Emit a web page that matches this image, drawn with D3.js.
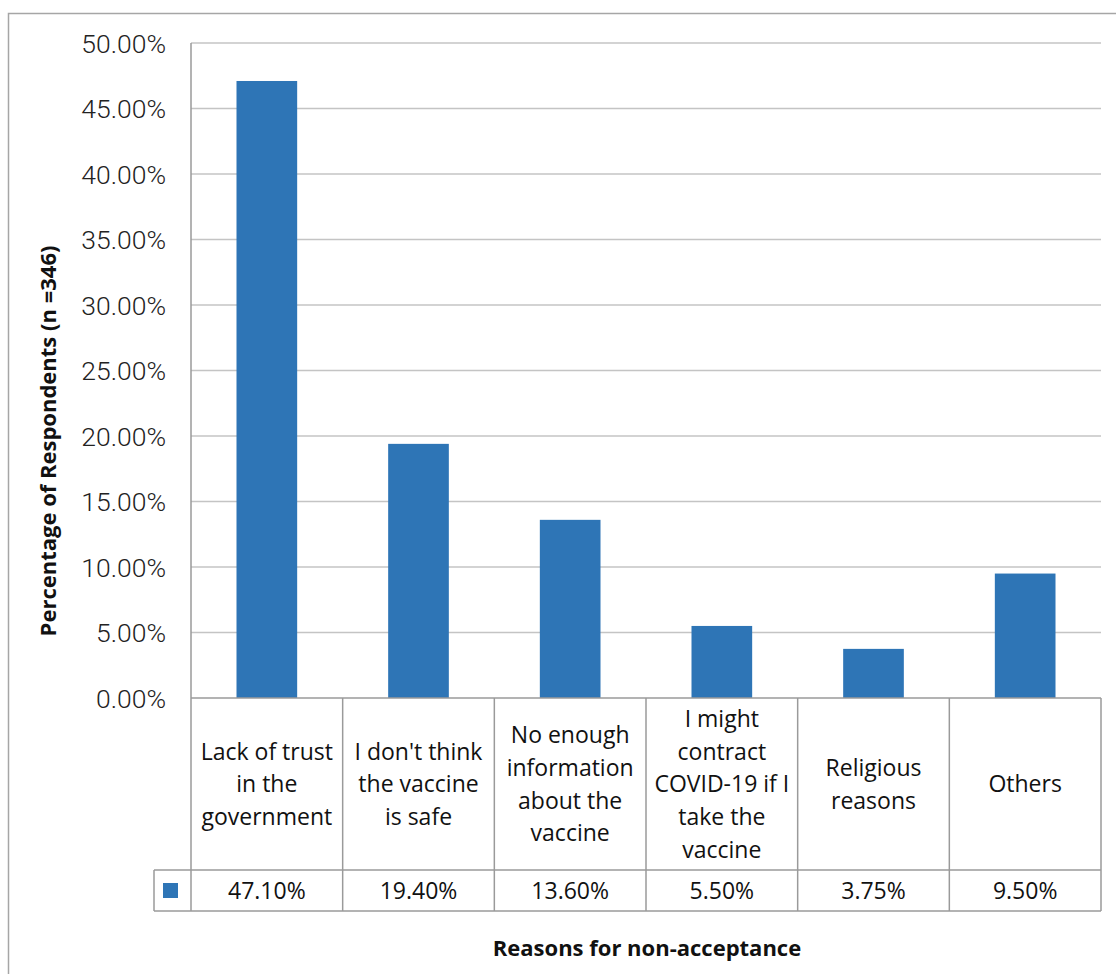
<!DOCTYPE html>
<html lang="en">
<head>
    <meta charset="UTF-8">
    <title>Reasons for non-acceptance</title>
    <script src="https://cdnjs.cloudflare.com/ajax/libs/d3/7.8.5/d3.js"></script>
    <style>
        body { margin: 0; background: #fff; }
        svg { display: block; }
    </style>
</head>
<body>
<svg width="1116" height="974"></svg>
<script>
    // data
    const categories = [
        ["Lack of trust", "in the", "government"],
        ["I don't think", "the vaccine", "is safe"],
        ["No enough", "information", "about the", "vaccine"],
        ["I might", "contract", "COVID-19 if I", "take the", "vaccine"],
        ["Religious", "reasons"],
        ["Others"]
    ];
    const values = [47.10, 19.40, 13.60, 5.50, 3.75, 9.50];
    const yTicks = [0, 5, 10, 15, 20, 25, 30, 35, 40, 45, 50];
    const yTitle = "Percentage of Respondents (n =346)";
    const xTitle = "Reasons for non-acceptance";

    const barColor = "#2e75b6";
    const gridColor = "#c4c4c4";
    const lineColor = "#9a9a9a";

    const svg = d3.select("svg");
    const plot = { left: 191, right: 1101, top: 43, bottom: 698 };
    const catRowBottom = 870;
    const valRowBottom = 911;
    const legendLeft = 154;

    // bars sit centred in the table columns
    const x = d3.scaleBand()
        .domain(d3.range(categories.length))
        .range([plot.left, plot.right])
        .paddingInner(0.6)
        .paddingOuter(0.3);
    const xCol = d3.scaleBand()
        .domain(d3.range(categories.length))
        .range([plot.left, plot.right]);
    const y = d3.scaleLinear()
        .domain([0, 50])
        .range([plot.bottom, plot.top]);

    // outer chart border
    svg.append("rect")
        .attr("x", 8.5).attr("y", 13.5)
        .attr("width", 1116).attr("height", 1000)
        .attr("fill", "none")
        .attr("stroke", "#a6a6a6")
        .attr("stroke-width", 1.5);

    // gridlines
    svg.append("g")
        .selectAll("line")
        .data(yTicks.filter(d => d > 0))
        .join("line")
        .attr("x1", plot.left).attr("x2", plot.right)
        .attr("y1", d => y(d)).attr("y2", d => y(d))
        .attr("stroke", gridColor)
        .attr("stroke-width", 1.5);

    // tick labels
    svg.append("g")
        .selectAll("text")
        .data(yTicks)
        .join("text")
        .attr("x", 166)
        .attr("y", d => y(d))
        .attr("dy", "0.36em")
        .attr("text-anchor", "end")
        .attr("font-family", "Roboto")
        .attr("font-weight", 300)
        .attr("font-size", "26.5px")
        .attr("fill", "#222")
        .text(d => d.toFixed(2) + "%");

    // bars
    svg.append("g")
        .selectAll("rect")
        .data(values)
        .join("rect")
        .attr("x", (d, i) => x(i))
        .attr("width", x.bandwidth())
        .attr("y", d => y(d))
        .attr("height", d => y(0) - y(d))
        .attr("fill", barColor);

    // data table
    const table = svg.append("g")
        .attr("fill", "none")
        .attr("stroke", lineColor)
        .attr("stroke-width", 1.5);

    // left axis line continues down as table border
    table.append("line")
        .attr("x1", plot.left).attr("x2", plot.left)
        .attr("y1", plot.top).attr("y2", valRowBottom);
    table.append("line")
        .attr("x1", plot.left).attr("x2", plot.right)
        .attr("y1", plot.bottom).attr("y2", plot.bottom);
    table.append("line")
        .attr("x1", legendLeft).attr("x2", plot.right)
        .attr("y1", catRowBottom).attr("y2", catRowBottom);
    table.append("line")
        .attr("x1", legendLeft).attr("x2", plot.right)
        .attr("y1", valRowBottom).attr("y2", valRowBottom);
    table.append("line")
        .attr("x1", legendLeft).attr("x2", legendLeft)
        .attr("y1", catRowBottom).attr("y2", valRowBottom);
    table.selectAll("line.col")
        .data(d3.range(1, categories.length + 1))
        .join("line")
        .attr("class", "col")
        .attr("x1", i => xCol(0) + i * xCol.step())
        .attr("x2", i => xCol(0) + i * xCol.step())
        .attr("y1", plot.bottom).attr("y2", valRowBottom);

    // category labels
    const lineH = 32.7;
    const catMid = (plot.bottom + catRowBottom) / 2;
    svg.append("g")
        .selectAll("text")
        .data(categories)
        .join("text")
        .attr("text-anchor", "middle")
        .attr("font-family", "'Open Sans'")
        .attr("font-size", "23px")
        .attr("fill", "#111")
        .each(function (lines, i) {
            const cx = xCol(i) + xCol.bandwidth() / 2;
            const top = catMid - (lines.length - 1) * lineH / 2;
            d3.select(this).selectAll("tspan")
                .data(lines)
                .join("tspan")
                .attr("x", cx)
                .attr("y", (d, j) => top + j * lineH)
                .attr("dy", "0.36em")
                .text(d => d);
        });

    // value row
    const valMid = (catRowBottom + valRowBottom) / 2;
    svg.append("g")
        .selectAll("text")
        .data(values)
        .join("text")
        .attr("x", (d, i) => xCol(i) + xCol.bandwidth() / 2)
        .attr("y", valMid)
        .attr("dy", "0.36em")
        .attr("text-anchor", "middle")
        .attr("font-family", "'Open Sans'")
        .attr("font-size", "23px")
        .attr("fill", "#111")
        .text(d => d.toFixed(2) + "%");

    // legend key
    svg.append("rect")
        .attr("x", 163).attr("y", valMid - 7.5)
        .attr("width", 15).attr("height", 15)
        .attr("fill", barColor);

    // axis titles
    svg.append("text")
        .attr("transform", `translate(56, 441) rotate(-90)`)
        .attr("text-anchor", "middle")
        .attr("font-family", "'Open Sans'")
        .attr("font-weight", "bold")
        .attr("font-size", "22px")
        .attr("fill", "#111")
        .text(yTitle);

    svg.append("text")
        .attr("x", 647)
        .attr("y", 948)
        .attr("dy", "0.36em")
        .attr("text-anchor", "middle")
        .attr("font-family", "'Open Sans'")
        .attr("font-weight", "bold")
        .attr("font-size", "22px")
        .attr("fill", "#111")
        .text(xTitle);
</script>
</body>
</html>
